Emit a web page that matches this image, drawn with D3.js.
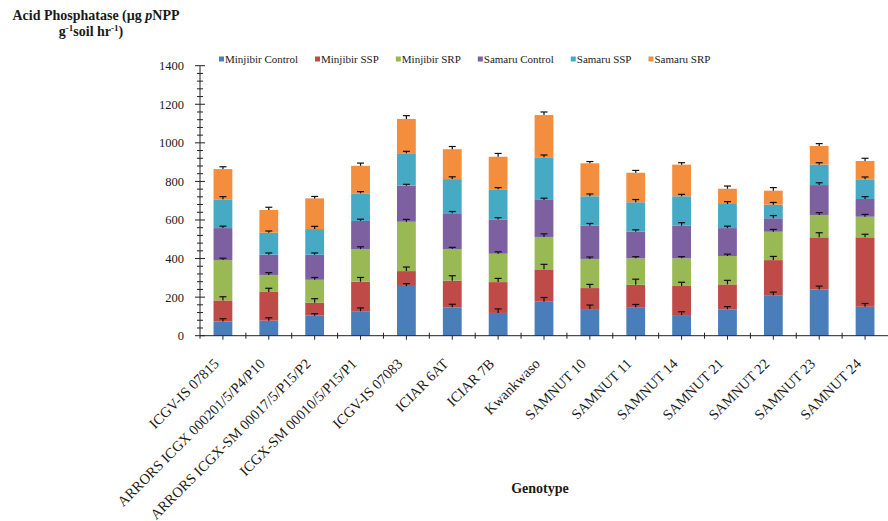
<!DOCTYPE html>
<html>
<head>
<meta charset="utf-8">
<script src="https://cdn.jsdelivr.net/npm/d3@7"></script>
<style>
  html, body { margin: 0; padding: 0; background: #ffffff; }
  svg { display: block; }
  text { font-family: "Liberation Serif", "DejaVu Serif", serif; fill: #1a1a1a; }
</style>
</head>
<body>
<svg id="chart" width="888" height="521"></svg>
<script>
// Genotypes along the x axis
const genotypes = [
  "ICGV-IS 07815", "ARRORS ICGX 000201/5/P4/P10", "ARRORS ICGX-SM 00017/5/P15/P2",
  "ICGX-SM 00010/5/P15/P1", "ICGV-IS 07083", "ICIAR 6AT", "ICIAR 7B", "Kwankwaso",
  "SAMNUT 10", "SAMNUT 11", "SAMNUT 14", "SAMNUT 21", "SAMNUT 22", "SAMNUT 23", "SAMNUT 24"
];

// Series names (stack order, bottom to top)
const seriesNames = ["Minjibir Control", "Minjibir SSP", "Minjibir SRP",
                     "Samaru Control", "Samaru SSP", "Samaru SRP"];

// Acid phosphatase activity per series (µg pNPP g-1 soil hr-1)
const minjibirControl = [74, 78, 104, 127, 258, 147, 118, 176, 138, 148, 107, 137, 210, 240, 150];
const minjibirSSP     = [109, 149, 67, 153, 77, 138, 160, 168, 109, 116, 151, 129, 182, 270, 360];
const minjibirSRP     = [209, 88, 119, 169, 256, 164, 147, 168, 151, 137, 143, 147, 147, 116, 107];
const samaruControl   = [166, 105, 130, 146, 187, 186, 178, 192, 172, 138, 169, 145, 70, 155, 92];
const samaruSSP       = [149, 114, 133, 143, 168, 177, 156, 221, 153, 153, 153, 125, 70, 106, 102];
const samaruSRP       = [157, 118, 159, 143, 178, 155, 169, 219, 171, 153, 164, 79, 73, 97, 95];

// Standard errors per series
const minjibirControlErr = [14, 15, 10, 17, 12, 16, 21, 22, 21, 14, 17, 14, 16, 17, 17];
const minjibirSSPErr     = [19, 19, 21, 22, 21, 26, 19, 26, 19, 29, 19, 21, 19, 24, 16];
const minjibirSRPErr     = [10, 12, 12, 12, 12, 9, 10, 16, 10, 9, 9, 10, 12, 12, 12];
const samaruControlErr   = [10, 9, 9, 9, 7, 9, 9, 9, 12, 10, 16, 10, 14, 12, 12];
const samaruSSPErr       = [14, 9, 14, 9, 10, 12, 9, 12, 12, 14, 10, 12, 12, 10, 12];
const samaruSRPErr       = [12, 14, 10, 14, 17, 14, 17, 16, 9, 12, 10, 14, 16, 12, 14];

// Y axis tick values
const yTicks = [0, 200, 400, 600, 800, 1000, 1200, 1400];

const seriesValues = [minjibirControl, minjibirSSP, minjibirSRP, samaruControl, samaruSSP, samaruSRP];
const seriesErrors = [minjibirControlErr, minjibirSSPErr, minjibirSRPErr, samaruControlErr, samaruSSPErr, samaruSRPErr];
const colors = ["#4A7EBB", "#BE4B48", "#98B954", "#7D60A0", "#46AAC5", "#F38E3E"];

// Table of rows for d3.stack
const rows = genotypes.map((g, i) => {
  const r = { genotype: g };
  seriesNames.forEach((s, k) => { r[s] = seriesValues[k][i]; });
  return r;
});
const stacked = d3.stack().keys(seriesNames)(rows);

const svg = d3.select("#chart");
const plotLeft = 200, plotRight = 888, plotTop = 65.7, plotBottom = 335.7;

const x = d3.scaleBand().domain(genotypes).range([plotLeft, plotRight]).padding(0);
const y = d3.scaleLinear().domain([0, 1400]).range([plotBottom, plotTop]);
const barW = x.step() * 0.41;
const cx = g => x(g) + x.bandwidth() / 2;

// Stacked bars
const layers = svg.append("g").selectAll("g")
  .data(stacked).join("g")
  .attr("fill", (d, k) => colors[k]);
layers.selectAll("rect")
  .data(d => d).join("rect")
  .attr("x", d => cx(d.data.genotype) - barW / 2)
  .attr("width", barW)
  .attr("y", d => y(d[1]))
  .attr("height", d => y(d[0]) - y(d[1]));

// Error bars (plus direction) at the top of every segment
const errG = svg.append("g").attr("stroke", "#111").attr("stroke-width", 1.2).attr("fill", "none");
stacked.forEach((layer, k) => {
  layer.forEach((d, i) => {
    const xc = cx(d.data.genotype);
    const y0 = y(d[1]);
    const y1 = y(d[1] + seriesErrors[k][i]);
    errG.append("line").attr("x1", xc).attr("x2", xc).attr("y1", y0).attr("y2", y1);
    errG.append("line").attr("x1", xc - 3.5).attr("x2", xc + 3.5).attr("y1", y1).attr("y2", y1);
  });
});

// Y axis
const yAxisG = svg.append("g").attr("stroke", "#222").attr("stroke-width", 1);
yAxisG.append("line").attr("x1", plotLeft).attr("x2", plotLeft).attr("y1", plotTop).attr("y2", plotBottom + 3);
d3.range(0, 1401, 40).forEach(v => {
  const major = v % 200 === 0;
  yAxisG.append("line")
    .attr("x1", plotLeft - (major ? 5 : 3)).attr("x2", plotLeft + (major ? 5 : 3))
    .attr("y1", y(v)).attr("y2", y(v));
});
svg.append("g").selectAll("text")
  .data(yTicks).join("text")
  .attr("x", 184).attr("y", d => y(d))
  .attr("dy", "0.35em")
  .attr("text-anchor", "end")
  .style("font-size", "12.5px")
  .text(d => d);

// X axis
const xAxisG = svg.append("g").attr("stroke", "#222").attr("stroke-width", 1);
xAxisG.append("line").attr("x1", plotLeft).attr("x2", plotRight).attr("y1", plotBottom).attr("y2", plotBottom);
genotypes.forEach((g, i) => {
  const bx = x(g) + x.step();
  if (bx < plotRight - 1) {
    xAxisG.append("line").attr("x1", bx).attr("x2", bx).attr("y1", plotBottom - 3).attr("y2", plotBottom + 3);
  }
  xAxisG.append("line").attr("x1", cx(g)).attr("x2", cx(g)).attr("y1", plotBottom).attr("y2", plotBottom + 4);
});
svg.append("g").selectAll("text")
  .data(genotypes).join("text")
  .attr("text-anchor", "end")
  .attr("transform", d => `translate(${cx(d) - 3},${plotBottom + 29}) rotate(-45)`)
  .style("font-size", "14.5px")
  .text(d => d);

// Axis titles
const yTitle = svg.append("text").attr("text-anchor", "middle")
  .style("font-size", "14px").style("font-weight", "bold");
const l1 = yTitle.append("tspan").attr("x", 96).attr("y", 20);
l1.append("tspan").text("Acid Phosphatase (µg ");
l1.append("tspan").style("font-style", "italic").text("p");
l1.append("tspan").text("NPP");
const l2 = svg.append("text").attr("text-anchor", "middle").attr("x", 91).attr("y", 36)
  .style("font-size", "14px").style("font-weight", "bold");
l2.append("tspan").text("g");
l2.append("tspan").attr("dy", -5).style("font-size", "9px").text("-1");
l2.append("tspan").attr("dy", 5).text("soil hr");
l2.append("tspan").attr("dy", -5).style("font-size", "9px").text("-1");
l2.append("tspan").attr("dy", 5).text(")");

svg.append("text").attr("x", 540).attr("y", 493).attr("text-anchor", "middle")
  .style("font-size", "14px").style("font-weight", "bold").text("Genotype");

// Legend
const legend = svg.append("g");
let lx = 219;
seriesNames.forEach((s, k) => {
  const item = legend.append("g").attr("transform", `translate(${lx},59)`);
  item.append("rect").attr("x", 0).attr("y", -2.5).attr("width", 5).attr("height", 5).attr("fill", colors[k]);
  const t = item.append("text").attr("x", 6).attr("y", 0).attr("dy", "0.35em")
    .style("font-size", "11px").text(s);
  lx += 6 + t.node().getComputedTextLength() + 17;
});
</script>
</body>
</html>
